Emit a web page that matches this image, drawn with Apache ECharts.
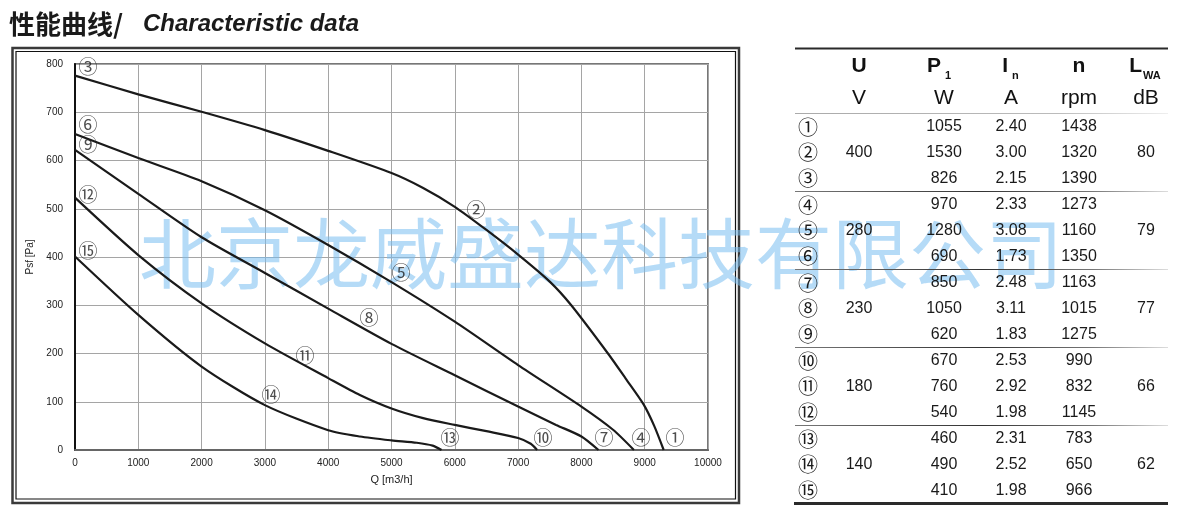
<!DOCTYPE html>
<html><head><meta charset="utf-8">
<script src="https://cdn.jsdelivr.net/npm/echarts@6/dist/echarts.min.js"></script>
<style>html,body{margin:0;padding:0;background:#fff}#c{width:1187px;height:521px}</style>
</head><body><div id="c"></div>
<script>
// ---- chart data (Q [m3/h], Psf [Pa]) ----
const curve1 = [[0,776],[1000,737],[2000,701],[3000,663],[4000,620],[5000,574],[5500,543],[6000,504],[6500,456],[7000,405],[7500,349],[7840,300],[8420,200],[8700,148],[8980,95],[9150,50],[9300,0]];
const curve4 = [[0,655],[1000,605],[2000,557],[3000,497],[4000,425],[5000,348],[6000,266],[7000,176],[8000,90],[8500,42],[8830,0]];
const curve7 = [[0,622],[1000,531],[2000,441],[3000,367],[4000,293],[5000,220],[6000,155],[7000,90],[7600,52],[8000,28],[8270,0]];
const curve10 = [[0,523],[1000,404],[2000,304],[3000,221],[4000,149],[4500,114],[5000,86],[5500,66],[6000,52],[6500,39],[7000,25],[7200,13],[7300,0]];
const curve13 = [[0,401],[1000,280],[2000,173],[3000,93],[4000,41],[4500,28],[5000,20],[5400,15],[5650,9],[5790,0]];
// curve marker labels [Q, P, text]
const curveMarks = [
  [205,794,'③'],[6335,497,'②'],[9479,25,'①'],
  [205,674,'⑥'],[5150,367,'⑤'],[8942,25,'④'],
  [205,632,'⑨'],[4645,274,'⑧'],[8357,25,'⑦'],
  [205,528,'⑫'],[3633,195,'⑪'],[7393,25,'⑩'],
  [205,412,'⑮'],[3096,114,'⑭'],[5924,25,'⑬']
];
// ---- table data ----
const rowIds = ['①','②','③','④','⑤','⑥','⑦','⑧','⑨','⑩','⑪','⑫','⑬','⑭','⑮'];
const voltage = [400, 280, 230, 180, 140];
const noise = [80, 79, 77, 66, 62];
const power = [1055,1530,826, 970,1280,690, 850,1050,620, 670,760,540, 460,490,410];
const current = [2.40,3.00,2.15, 2.33,3.08,1.73, 2.48,3.11,1.83, 2.53,2.92,1.98, 2.31,2.52,1.98];
const speed = [1438,1320,1390, 1273,1160,1350, 1163,1015,1275, 990,832,1145, 783,650,966];
const headers = [['U',''],['P','1'],['I','n'],['n',''],['L','WA']];
const units = ['V','W','A','rpm','dB'];

const SANS = '"Liberation Sans", Arial, sans-serif';
const CJK = '"Noto Sans CJK SC", sans-serif';

const chart = echarts.init(document.getElementById('c'));
const g = [];
// outer frame
g.push({type:'rect', z:1, shape:{x:12.5,y:48,width:726.5,height:455}, style:{fill:'none', stroke:'#3a3a3a', lineWidth:2.5}});
g.push({type:'rect', z:1, shape:{x:16,y:51.5,width:719.5,height:447.5}, style:{fill:'none', stroke:'#111', lineWidth:1.2}});
// watermark
g.push({type:'text', z:3, x:601, y:254, style:{text:'北京龙威盛达科技有限公司', font:'77px '+CJK, fill:'rgba(120,190,240,0.55)', align:'center', verticalAlign:'middle'}});
// table lines
g.push({type:'line', z:4, shape:{x1:795,y1:48.5,x2:1168,y2:48.5}, style:{stroke:'#2a2a2a', lineWidth:2}});
g.push({type:'line', z:4, shape:{x1:795,y1:113.5,x2:1168,y2:113.5}, style:{stroke:new echarts.graphic.LinearGradient(795,0,1168,0,[{offset:0,color:'#aaa'},{offset:0.7,color:'#bbb'},{offset:1,color:'#eee'}],true), lineWidth:1}});
for (let k=0;k<4;k++){
  const y = 191.5 + k*78;
  g.push({type:'line', z:4, shape:{x1:795,y1:y,x2:1168,y2:y}, style:{stroke:new echarts.graphic.LinearGradient(795,0,1168,0,[{offset:0,color:'#777'},{offset:0.5,color:'#333'},{offset:0.8,color:'#777'},{offset:1,color:'#ddd'}],true), lineWidth:1}});
}
g.push({type:'line', z:4, shape:{x1:794,y1:503.5,x2:1168,y2:503.5}, style:{stroke:'#2a2a2a', lineWidth:3}});
// header
const colX = [859, 944, 1011, 1079, 1146];
headers.forEach((h,i)=>{
  const main = h[0], sub = h[1];
  if (!sub) {
    g.push({type:'text', z:6, x:colX[i], y:66, style:{text:main, font:'bold 21px '+SANS, fill:'#111', align:'center', verticalAlign:'middle'}});
  } else {
    g.push({type:'text', z:6, x:colX[i]+ (sub.length>1?-4:-3), y:66, style:{text:main, font:'bold 21px '+SANS, fill:'#111', align:'right', verticalAlign:'middle'}});
    g.push({type:'text', z:6, x:colX[i]+ (sub.length>1?-3:1), y:76, style:{text:sub, font:'bold 11px '+SANS, fill:'#111', align:'left', verticalAlign:'middle'}});
  }
  g.push({type:'text', z:6, x:colX[i], y:98, style:{text:units[i], font:'21px '+SANS, fill:'#111', align:'center', verticalAlign:'middle'}});
});
// rows
rowIds.forEach((id,i)=>{
  const grp = Math.floor(i/3), r = i%3;
  const y = 127 + grp*78 + r*25.8;
  const txt = (t,x,f)=>g.push({type:'text', z:6, x:x, y:y, style:{text:String(t), font:f||('16px '+SANS), fill:'#1a1a1a', align:'center', verticalAlign:'middle'}});
  txt(id, 808, '20px '+CJK);
  txt(power[i], colX[1]);
  txt(current[i].toFixed(2), colX[2]);
  txt(speed[i], colX[3]);
  if (r===1){ txt(voltage[grp], colX[0]); txt(noise[grp], colX[4]); }
});

const lineSeries = [curve1, curve4, curve7, curve10, curve13].map(d=>({
  type:'line', data:d, smooth:0.25, showSymbol:false, z:5,
  lineStyle:{color:'#1a1a1a', width:2.2}, silent:true
}));

chart.setOption({
  animation:false,
  title:{text:'{a|性能曲线/ }{b|Characteristic data}', left:4, top:6,
    textStyle:{rich:{a:{fontFamily:CJK, fontSize:26, color:'#1a1a1a', padding:[0,14,0,0]}, b:{fontFamily:SANS, fontSize:24, fontWeight:'bold', fontStyle:'italic', color:'#1a1a1a'}}}},
  grid:{left:75, right:479, top:64, bottom:71, show:true, borderColor:'#777', borderWidth:2, backgroundColor:'transparent'},
  xAxis:{type:'value', min:0, max:10000, interval:1000, name:'Q [m3/h]', nameLocation:'middle', nameGap:24,
    nameTextStyle:{fontFamily:SANS, fontSize:11, color:'#222'},
    axisLine:{lineStyle:{color:'#666', width:2}}, axisTick:{show:false},
    axisLabel:{fontFamily:SANS, fontSize:10, color:'#222', margin:8, formatter:v=>String(v)},
    splitLine:{lineStyle:{color:'#a5a5a5', width:1}}},
  yAxis:{type:'value', min:0, max:800, interval:100, name:'Psf [Pa]', nameLocation:'middle', nameGap:36,
    nameTextStyle:{fontFamily:SANS, fontSize:10, color:'#222'},
    axisLine:{lineStyle:{color:'#111', width:2}}, axisTick:{show:false},
    axisLabel:{fontFamily:SANS, fontSize:10, color:'#222', margin:12, formatter:v=>String(v)},
    splitLine:{lineStyle:{color:'#a5a5a5', width:1}}},
  graphic:g,
  series: lineSeries.concat([{
    type:'scatter', data:curveMarks, symbolSize:1, z:6, silent:true, clip:false,
    itemStyle:{color:'rgba(0,0,0,0)'},
    label:{show:true, position:'inside', formatter:p=>p.value[2], fontFamily:CJK, fontSize:19, color:'#222'}
  }])
});
</script></body></html>
